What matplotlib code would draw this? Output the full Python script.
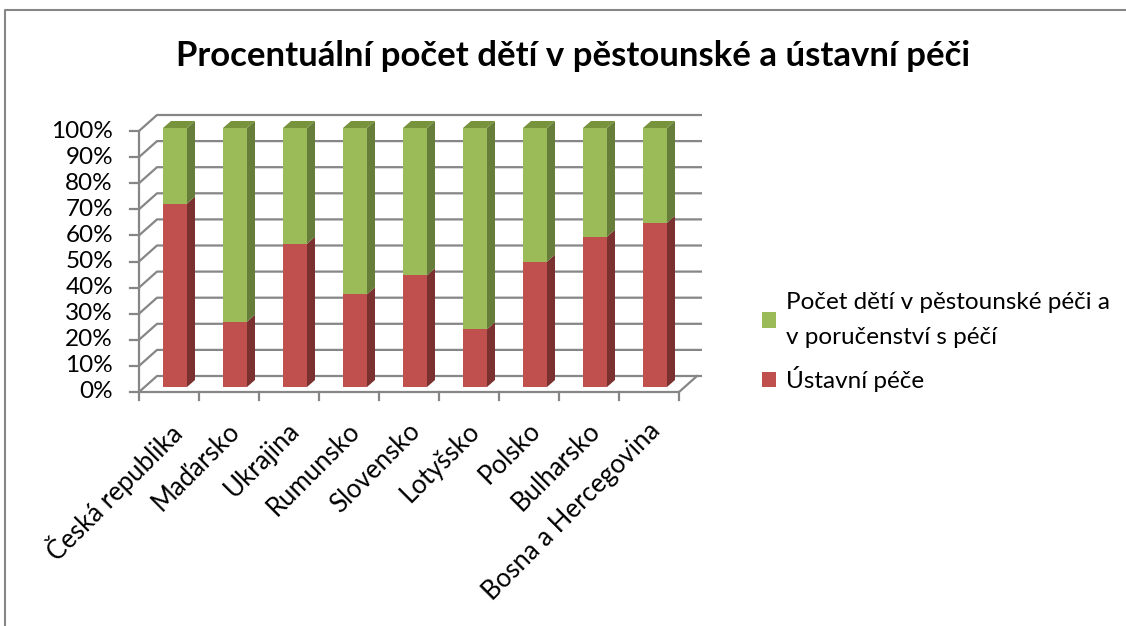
import matplotlib.pyplot as plt
from matplotlib.patches import Polygon, Patch
from matplotlib.lines import Line2D
import matplotlib.transforms as mtransforms

plt.rcParams['font.family'] = ['Lato', 'DejaVu Sans']

countries = ['Česká republika', 'Maďarsko', 'Ukrajina', 'Rumunsko', 'Slovensko',
             'Lotyšsko', 'Polsko', 'Bulharsko', 'Bosna a Hercegovina']
ustavni = [70.8, 25.2, 55.3, 35.8, 43.1, 22.3, 48.4, 58.0, 63.4]
pestounska = [100 - v for v in ustavni]
yticks = [0, 10, 20, 30, 40, 50, 60, 70, 80, 90, 100]

red, red_side = '#C0504D', '#7B3130'
green, green_side, green_top = '#9BBB59', '#667E3A', '#77933C'
grid_c = '#868686'

fig = plt.figure(figsize=(11.26, 6.26), dpi=100)
W, H = 1126, 626

# axes: x from 139px to 702px, y=0 at 392px, 100 at 131px
px_x = 60.0           # pixels per category
px_y = 261 / 100.0    # pixels per percent
ax = fig.add_axes([139 / W, (H - 392) / H, 563 / W, 279 / H])
ax.set_xlim(-0.5, -0.5 + 563 / px_x)
ax.set_ylim(0, 279 / px_y)
ax.axis('off')

# back wall gridlines with slanted connectors (3D look)
ddx, ddy = 18 / px_x, 16 / px_y
x_end = -0.5 + 563 / px_x
for t in yticks:
    ax.plot([-0.5, -0.5 + ddx, x_end], [t, t + ddy, t + ddy], color=grid_c, lw=1.6,
            solid_capstyle='butt', clip_on=False, zorder=1)
# left axis and floor front edge
ax.plot([-0.5, -0.5], [0, 100], color=grid_c, lw=1.6, clip_on=False, zorder=1)
ax.plot([-0.5, 8.5, 8.5 + ddx], [0, 0, ddy], color=grid_c, lw=1.6, clip_on=False, zorder=1)
# y tick marks and labels
for t in yticks:
    ax.plot([-0.5 - 9 / px_x, -0.5], [t, t], color=grid_c, lw=1.6, clip_on=False)
    ax.text(-0.5 - 26 / px_x, t, f'{t}%', ha='right', va='center', fontsize=17.5)
# x tick marks between categories
for i in range(10):
    ax.plot([i - 0.5, i - 0.5], [0, -8 / px_y], color=grid_c, lw=1.6, clip_on=False)
for i, c in enumerate(countries):
    ax.text(i - 0.03, -26 / px_y, c, rotation=45, ha='right', va='top',
            rotation_mode='anchor', fontsize=18.5)

# bars, shifted slightly into depth
shift = mtransforms.ScaledTranslation(6 / 100, 5 / 100, fig.dpi_scale_trans)
tr = ax.transData + shift
bw = 24 / px_x
sdx, sdy = 8 / px_x, 7 / px_y
scale = 259 / 261
for i, (r, g) in enumerate(zip(ustavni, pestounska)):
    x0, x1 = i - bw / 2, i + bw / 2
    segs = [(0, r * scale, red, red_side), (r * scale, (r + g) * scale, green, green_side)]
    for b, t, fc, sc in segs:
        ax.add_patch(Polygon([(x0, b), (x1, b), (x1, t), (x0, t)], closed=True,
                             facecolor=fc, edgecolor='none', transform=tr, zorder=3))
        ax.add_patch(Polygon([(x1, b), (x1 + sdx, b + sdy), (x1 + sdx, t + sdy), (x1, t)],
                             closed=True, facecolor=sc, edgecolor='none', transform=tr, zorder=3))
    top = (r + g) * scale
    ax.add_patch(Polygon([(x0, top), (x1, top), (x1 + sdx, top + sdy), (x0 + sdx, top + sdy)],
                         closed=True, facecolor=green_top, edgecolor='none', transform=tr, zorder=3))

fig.text(573 / W, 1 - 56 / H, 'Procentuální počet dětí v pěstounské a ústavní péči',
         ha='center', va='center', fontsize=25, fontweight='bold')

handles = [Patch(facecolor=green, edgecolor='none'), Patch(facecolor=red, edgecolor='none')]
labels = ['Počet dětí v pěstounské péči a\nv poručenství s péčí', 'Ústavní péče']
leg = fig.legend(handles, labels, loc='center left', bbox_to_anchor=(740 / W, 1 - 342 / H),
                 frameon=False, fontsize=17.5, handlelength=0.6, handleheight=0.6,
                 handletextpad=0.4, labelspacing=0.75)
for t in leg.get_texts():
    t.set_linespacing(1.85)

# chart border (top and left edges visible)
fig.add_artist(Line2D([5 / W, 5 / W, 1], [0, 1 - 10 / H, 1 - 10 / H],
                      transform=fig.transFigure, color=grid_c, lw=1.5))

fig.savefig('out.png', dpi=100)
